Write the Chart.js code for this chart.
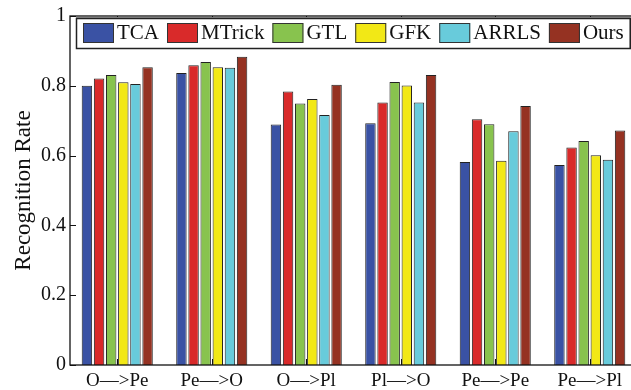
<!DOCTYPE html>
<html lang="en">
<head>
    <meta charset="UTF-8">
    <title>Recognition Rate</title>
    <style>
        html, body {
            margin: 0;
            padding: 0;
            background: #fff;
            overflow: hidden;
        }

        .wrap {
            width: 631px;
            height: 390px;
            overflow: hidden;
        }
    </style>
    <script src="https://cdn.jsdelivr.net/npm/chart.js"></script>
</head>
<body>
    <div class="wrap">
        <canvas id="rateChart" width="640" height="390"></canvas>
    </div>

    <script>
        // Categories and values
        const categories = ['O\u2014>Pe', 'Pe\u2014>O', 'O\u2014>Pl', 'Pl\u2014>O', 'Pe\u2014>Pe', 'Pe\u2014>Pl'];
        const methods = ['TCA', 'MTrick', 'GTL', 'GFK', 'ARRLS', 'Ours'];

        const tca    = [0.800, 0.837, 0.689, 0.693, 0.582, 0.573];
        const mtrick = [0.821, 0.859, 0.784, 0.752, 0.704, 0.623];
        const gtl    = [0.831, 0.868, 0.749, 0.811, 0.690, 0.642];
        const gfk    = [0.810, 0.853, 0.762, 0.801, 0.585, 0.601];
        const arrls  = [0.805, 0.852, 0.716, 0.752, 0.670, 0.588];
        const ours   = [0.853, 0.883, 0.803, 0.831, 0.742, 0.672];

        const yTicks = [0, 0.2, 0.4, 0.6, 0.8, 1];

        const colors = ['#3a52a4', '#d92a2a', '#88c34e', '#f2e816', '#68cbdb', '#953222'];
        const seriesData = [tca, mtrick, gtl, gfk, arrls, ours];

        const serif = '"Liberation Serif", "Times New Roman", serif';

        // MATLAB style box with inward ticks, plus the boxed legend
        const matlabFrame = {
            id: 'matlabFrame',
            afterDatasetsDraw(chart) {
                const ctx = chart.ctx;
                const a = chart.chartArea;
                const xs = chart.scales.x;
                const ys = chart.scales.y;
                ctx.save();
                ctx.strokeStyle = '#111';
                ctx.lineWidth = 1.3;
                ctx.strokeRect(a.left, a.top, a.right - a.left, a.bottom - a.top);

                // y ticks on both sides
                ctx.beginPath();
                yTicks.forEach(v => {
                    const y = Math.round(ys.getPixelForValue(v)) + 0.5;
                    ctx.moveTo(a.left, y); ctx.lineTo(a.left + 6, y);
                    ctx.moveTo(a.right, y); ctx.lineTo(a.right - 6, y);
                });
                // x ticks at category centres, top and bottom
                categories.forEach((c, i) => {
                    const x = Math.round(xs.getPixelForValue(i)) + 0.5;
                    ctx.moveTo(x, a.top); ctx.lineTo(x, a.top + 6);
                    ctx.moveTo(x, a.bottom); ctx.lineTo(x, a.bottom - 6);
                });
                ctx.lineWidth = 1;
                ctx.stroke();

                // legend
                ctx.font = '21px ' + serif;
                ctx.textBaseline = 'middle';
                const boxTop = 18, boxBottom = 48;
                let x = 83;
                const items = chart.data.datasets.map(ds => {
                    const w = ctx.measureText(ds.label).width;
                    const item = { x: x, w: w, label: ds.label, color: ds.backgroundColor };
                    x += 31 + 3 + w + 8;
                    return item;
                });
                const boxRight = x - 8 + 6;
                ctx.fillStyle = '#fff';
                ctx.fillRect(76, boxTop, boxRight - 76, boxBottom - boxTop);
                ctx.strokeStyle = '#999';
                ctx.lineWidth = 1;
                ctx.strokeRect(76.5, boxTop - 0.5, boxRight - 76, boxBottom - boxTop + 1);
                ctx.strokeStyle = '#222';
                ctx.lineWidth = 1.5;
                ctx.strokeRect(76.5, boxTop + 0.5, boxRight - 76, boxBottom - boxTop);

                items.forEach(it => {
                    ctx.fillStyle = it.color;
                    ctx.fillRect(it.x, 23, 31, 20);
                    ctx.strokeStyle = '#333';
                    ctx.lineWidth = 1;
                    ctx.strokeRect(it.x + 0.5, 23.5, 30, 19);
                    ctx.fillStyle = '#111';
                    ctx.fillText(it.label, it.x + 34, 33.5);
                });
                ctx.restore();
            }
        };

        const ctx = document.getElementById('rateChart').getContext('2d');
        const rateChart = new Chart(ctx, {
            type: 'bar',
            data: {
                labels: categories,
                datasets: methods.map((m, i) => ({
                    label: m,
                    data: seriesData[i],
                    backgroundColor: colors[i],
                    borderColor: '#222',
                    borderWidth: 1,
                    categoryPercentage: 0.77,
                    barPercentage: 0.86
                }))
            },
            options: {
                responsive: false,
                animation: false,
                layout: {
                    padding: { top: 15, right: 3, left: 0, bottom: 0 }
                },
                plugins: {
                    legend: { display: false },
                    tooltip: { enabled: false }
                },
                scales: {
                    x: {
                        grid: { display: false, drawTicks: false },
                        border: { display: false },
                        ticks: {
                            color: '#111',
                            font: { family: serif, size: 19 },
                            padding: 5,
                            maxRotation: 0
                        },
                        afterFit: s => { s.height = 25; }
                    },
                    y: {
                        min: 0,
                        max: 1,
                        grid: { display: false, drawTicks: false },
                        border: { display: false },
                        afterBuildTicks: s => { s.ticks = yTicks.map(v => ({ value: v })); },
                        ticks: {
                            color: '#111',
                            font: { family: serif, size: 20 },
                            padding: 4,
                            callback: v => String(Math.round(v * 10) / 10)
                        },
                        title: {
                            display: true,
                            text: 'Recognition Rate',
                            color: '#111',
                            font: { family: serif, size: 23 },
                            padding: { top: 10, bottom: 0 }
                        },
                        afterFit: s => { s.width = 70; }
                    }
                }
            },
            plugins: [matlabFrame]
        });
    </script>
</body>
</html>
